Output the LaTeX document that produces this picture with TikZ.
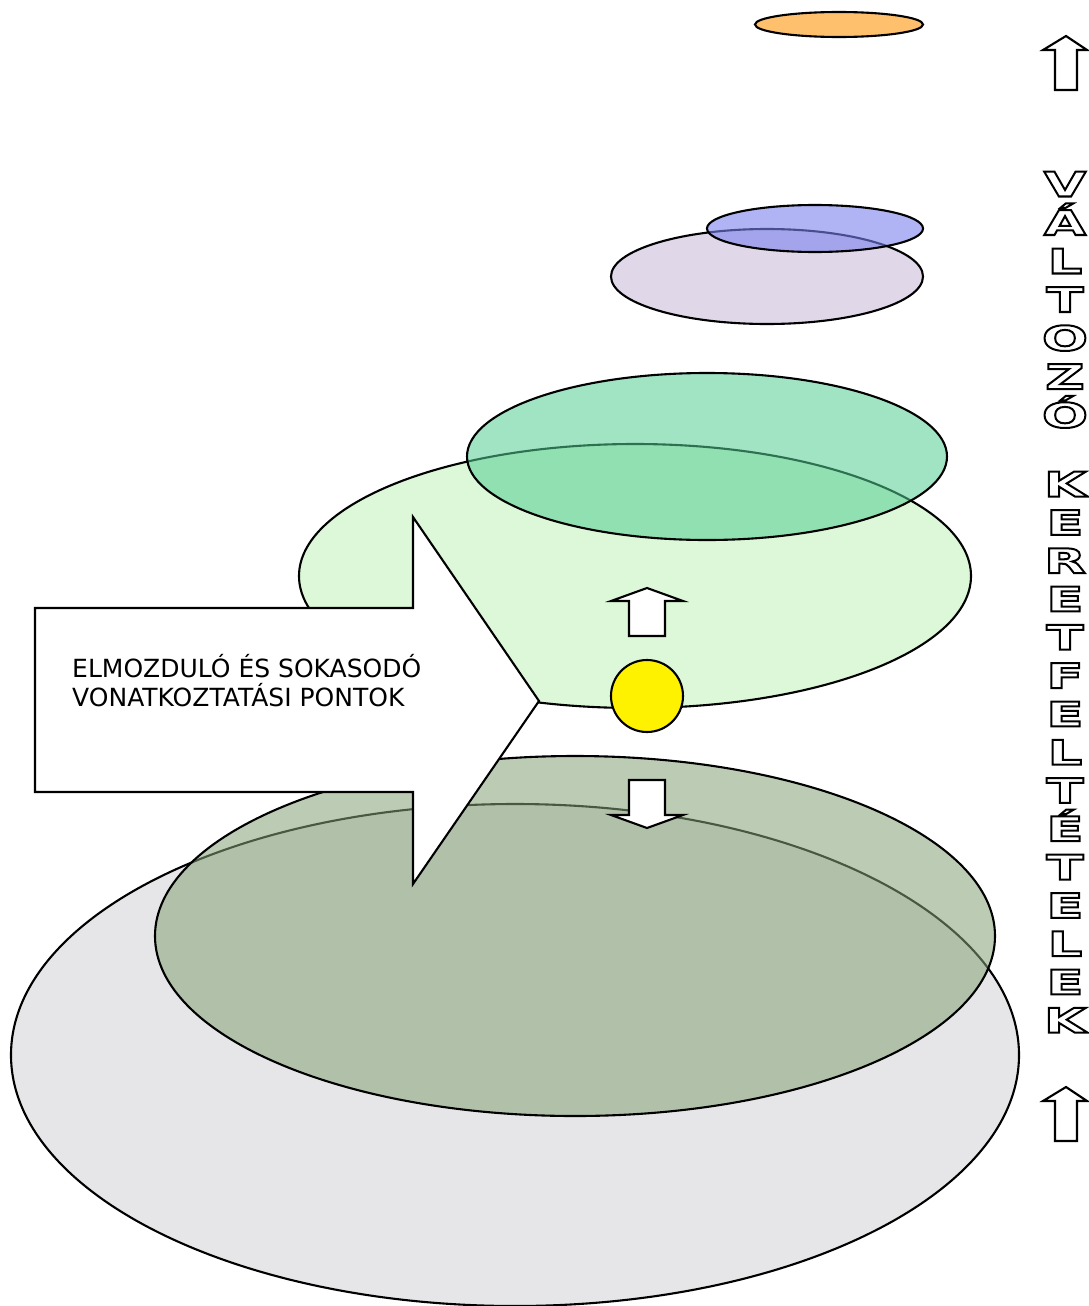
\documentclass[tikz,border=0pt]{standalone}
\usepackage{fontspec}
\setmainfont{DejaVu Sans}
\newfontfamily\hollowfont[FakeStretch=1.6]{DejaVu Sans}
\usetikzlibrary{shapes.geometric}

\definecolor{orangefill}{HTML}{FFC06E}
\definecolor{bluefill}{RGB}{123,130,237}
\definecolor{lilacfill}{HTML}{E0D8E8}
\definecolor{mintfill}{RGB}{82,206,148}
\definecolor{palefill}{HTML}{DCF8D8}
\definecolor{olivefill}{RGB}{133,162,119}
\definecolor{greyfill}{HTML}{E6E6E8}

\tikzset{
    layer/.style={
        ellipse,
        draw=black,
        line width=2.1pt,
        inner sep=0pt,
        outer sep=0pt,
    },
    seethrough/.style={
        fill opacity=0.55,
    },
    arrowbox/.style={
        draw=black,
        line width=2.1pt,
        fill=white,
        line join=miter,
    },
    calltext/.style={
        font=\fontsize{25}{29}\selectfont,
        align=left,
        inner sep=0pt,
    },
    letter/.style={
        font=\hollowfont\bfseries\fontsize{34}{34}\selectfont,
        inner sep=0pt,
        anchor=base,
    },
    smallup/.pic={
        \draw[arrowbox] (0,0) -- (36,-13) -- (18,-13) -- (18,-48)
            -- (-18,-48) -- (-18,-13) -- (-36,-13) -- cycle;
    },
    sideup/.pic={
        \draw[arrowbox] (0,0) -- (21,-14) -- (11,-14) -- (11,-54)
            -- (-11,-54) -- (-11,-14) -- (-23,-14) -- cycle;
    },
}

% outlined glyphs: stroke only (text render mode 1)
\newcommand{\hollow}[1]{\special{pdf:literal direct 1 Tr 2 w}#1\special{pdf:literal direct 0 Tr}}

\begin{document}
\begin{tikzpicture}[x=1pt, y=1pt]
    \useasboundingbox (0,0) rectangle (1088,-1306);

    % lower layers
    \node[layer, fill=greyfill, minimum width=1008pt, minimum height=502pt] (grey) at (515,-1055) {};
    \node[layer, fill=olivefill, seethrough, minimum width=840pt, minimum height=360pt] (olive) at (575,-936) {};
    \node[layer, fill=palefill, minimum width=672pt, minimum height=264pt] (pale) at (635,-576) {};
    \node[layer, fill=mintfill, seethrough, minimum width=480pt, minimum height=167pt] (mint) at (707,-456.5) {};

    % upper layers
    \node[layer, fill=lilacfill, minimum width=312pt, minimum height=95pt] (lilac) at (767,-276.5) {};
    \node[layer, fill=bluefill, fill opacity=0.6, minimum width=216pt, minimum height=47pt] (blue) at (815,-228.5) {};
    \node[layer, fill=orangefill, minimum width=168pt, minimum height=25pt] (orange) at (839,-24.5) {};

    % callout
    \draw[arrowbox] (35,-608) -- (413,-608) -- (413,-517) -- (539,-701)
        -- (413,-884) -- (413,-792) -- (35,-792) -- cycle;
    \node[calltext, anchor=west] (points) at (72,-681)
        {ELMOZDULÓ ÉS SOKASODÓ\\VONATKOZTATÁSI PONTOK};

    % reference point and its moves
    \node[circle, draw=black, line width=2.1pt, fill=yellow, minimum size=72pt, inner sep=0pt] (point) at (647,-696) {};
    \pic at (647,-588) {smallup};
    \pic[rotate=180] at (647,-828) {smallup};

    % side caption
    \pic at (1066,-36) {sideup};
    \pic at (1066,-1087) {sideup};
    \foreach \ch [count=\i from 0] in {V,Á,L,T,O,Z,Ó}
        \node[letter] (first\i) at (1065,{-196.5-38.5*\i}) {\hollow{\ch}};
    \foreach \ch [count=\i from 0] in {K,E,R,E,T,F,E,L,T,É,T,E,L,E,K}
        \node[letter] (second\i) at (1065,{-496.5-38.3*\i}) {\hollow{\ch}};
\end{tikzpicture}
\end{document}
